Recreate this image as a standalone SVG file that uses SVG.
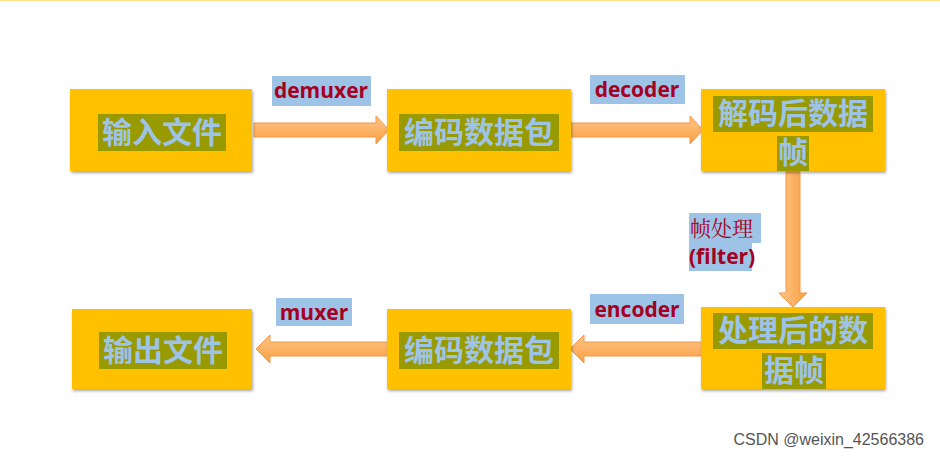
<svg xmlns="http://www.w3.org/2000/svg" width="940" height="458" viewBox="0 0 940 458">
<style>
.box{fill:#FFC000}
.hl{fill:#999900}
.t{font-family:"Noto Sans CJK SC","Liberation Sans",sans-serif;font-weight:bold;font-size:30px;fill:#9DC3E6}
.lb{fill:#9DC3E6}
.l{font-family:"Open Sans","Liberation Sans",sans-serif;font-weight:bold;font-size:21px;fill:#A50021}
.arr{fill:url(#g);stroke:#F79646;stroke-width:1}
.wm{font-family:"Liberation Sans",sans-serif;font-size:16px;fill:#555}
</style>
<defs>
<linearGradient id="g" x1="0" y1="0" x2="0" y2="1"><stop offset="0" stop-color="#FFC58A"/><stop offset="1" stop-color="#F9A040"/></linearGradient>
<linearGradient id="gv" x1="0" y1="0" x2="1" y2="0"><stop offset="0" stop-color="#FFC58A"/><stop offset="1" stop-color="#F9A040"/></linearGradient>
<filter id="sh"><feDropShadow dx="1" dy="2" stdDeviation="1.5" flood-opacity="0.35"/></filter>
</defs>
<rect width="940" height="458" fill="#fff"/>
<line x1="0" y1="0.5" x2="940" y2="0.5" stroke="#FFE08A"/>
<g id="connectors">
<path class="arr" d="M254 123H376V116L389 130L376 144V137H254Z"/>
<path class="arr" d="M568 123H690V116L703 130L690 144V137H568Z"/>
<path d="M786 172H800V293H807L793 307L779 293H786Z" fill="url(#gv)" stroke="#F79646"/>
<path class="arr" d="M702 342H584V335L570 349L584 363V356H702Z"/>
<path class="arr" d="M389 342H270V335L256 349L270 363V356H389Z"/>
</g>
<g id="n1"><rect class="box" x="70" y="89" width="182" height="82" filter="url(#sh)"/><rect class="hl" x="98" y="114" width="128" height="37"/><text class="t" x="162" y="143" text-anchor="middle">输入文件</text></g>
<g id="n2"><rect class="box" x="387" y="89" width="184" height="82" filter="url(#sh)"/><rect class="hl" x="399" y="114" width="160" height="37"/><text class="t" x="479" y="143" text-anchor="middle">编码数据包</text></g>
<g id="n3"><rect class="box" x="701" y="89" width="184" height="82" filter="url(#sh)"/><rect class="hl" x="713" y="96" width="160" height="36"/><rect class="hl" x="777" y="136" width="32" height="35"/><text class="t" x="793" y="124" text-anchor="middle">解码后数据</text><text class="t" x="793" y="163" text-anchor="middle">帧</text></g>
<g id="n4"><rect class="box" x="701" y="307" width="184" height="82" filter="url(#sh)"/><rect class="hl" x="713" y="313" width="160" height="36"/><rect class="hl" x="762" y="353" width="64" height="36"/><text class="t" x="793" y="341" text-anchor="middle">处理后的数</text><text class="t" x="794" y="381" text-anchor="middle">据帧</text></g>
<g id="n5"><rect class="box" x="387" y="309" width="184" height="80" filter="url(#sh)"/><rect class="hl" x="399" y="332" width="160" height="37"/><text class="t" x="479" y="361" text-anchor="middle">编码数据包</text></g>
<g id="n6"><rect class="box" x="72" y="309" width="180" height="80" filter="url(#sh)"/><rect class="hl" x="99" y="332" width="128" height="37"/><text class="t" x="163" y="361" text-anchor="middle">输出文件</text></g>
<g id="labels">
<rect class="lb" x="272" y="76" width="99" height="30"/><text class="l" x="321" y="98" text-anchor="middle">demuxer</text>
<rect class="lb" x="590" y="75" width="95" height="29"/><text class="l" x="637" y="97" text-anchor="middle">decoder</text>
<rect class="lb" x="590" y="294" width="94" height="30"/><text class="l" x="637" y="317" text-anchor="middle">encoder</text>
<rect class="lb" x="276" y="298" width="76" height="28"/><text class="l" x="314" y="320" text-anchor="middle">muxer</text>
<rect class="lb" x="689" y="213" width="72" height="30"/><rect class="lb" x="689" y="243" width="63" height="28"/>
<text x="690" y="236" font-family="'Noto Serif CJK SC','Noto Sans CJK SC',serif" font-size="21" fill="#A50021">帧处理</text>
<text class="l" x="689" y="264" font-size="19">(filter)</text>
</g>
<text class="wm" x="924" y="445" text-anchor="end">CSDN @weixin_42566386</text>
</svg>
